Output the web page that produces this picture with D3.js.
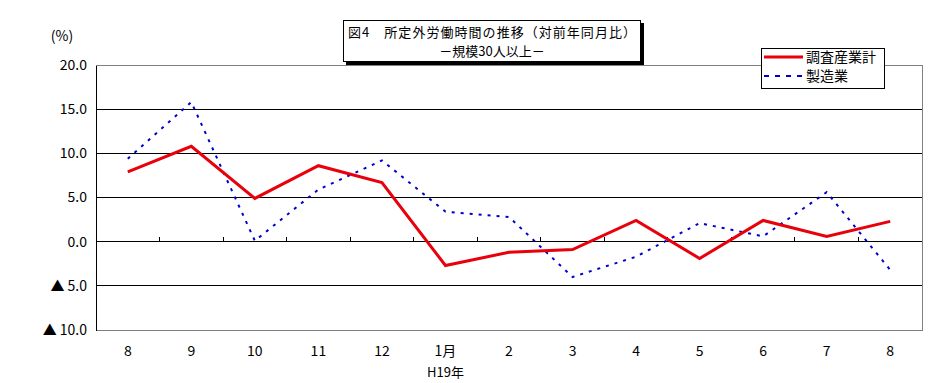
<!DOCTYPE html>
<html><head><meta charset="utf-8">
<script src="https://cdn.jsdelivr.net/npm/d3@7"></script>
<style>body{margin:0;background:#fff}svg{display:block}text{font-family:"Noto Sans CJK JP","DejaVu Sans",sans-serif;fill:#000}</style>
</head><body><svg id="c" width="948" height="383"></svg>
<script>
const categories = ["8","9","10","11","12","1月","2","3","4","5","6","7","8"];
const totalIndustry = [7.9,10.8,4.9,8.6,6.7,-2.7,-1.2,-0.9,2.4,-1.9,2.4,0.6,2.3];
const manufacturing = [9.4,15.8,0.1,5.9,9.2,3.4,2.8,-4.0,-1.7,2.1,0.6,5.6,-3.2];
const yTicks = [20,15,10,5,0,-5,-10];
const seriesNames = ["調査産業計","製造業"];
const titleLines = ["図4　所定外労働時間の推移（対前年同月比）","－規模30人以上－"];

const svg = d3.select("#c");
const L=96,R=922,T=65,B=330;
const x = d3.scaleBand().domain(d3.range(categories.length)).range([L,R]);
const y = d3.scaleLinear().domain([-10,20]).range([B,T]);

svg.append("g").selectAll("line").data(yTicks.filter(v=>v<20&&v>-10)).join("line")
  .attr("x1",L).attr("x2",R).attr("y1",d=>y(d)).attr("y2",d=>y(d))
  .attr("stroke","#000").attr("stroke-width",1).attr("shape-rendering","crispEdges");
svg.append("path").attr("d",`M${L},${T}H${R}V${B}H${L}`).attr("fill","none")
  .attr("stroke","#808080").attr("shape-rendering","crispEdges");
const yAxis = d3.axisLeft(y).tickValues(yTicks).tickSize(0).tickPadding(9)
  .tickFormat(d=> d<0 ? "▲ "+Math.abs(d).toFixed(1) : d.toFixed(1));
const ga = svg.append("g").attr("transform",`translate(${L},0)`).call(yAxis);
ga.select(".domain").attr("stroke","#000").attr("shape-rendering","crispEdges");
ga.selectAll("text").attr("font-size",14);
svg.append("g").selectAll("line").data(d3.range(1,categories.length)).join("line")
  .attr("x1",d=>x(d)).attr("x2",d=>x(d)).attr("y1",y(0)).attr("y2",y(0)-5)
  .attr("stroke","#000").attr("shape-rendering","crispEdges");
const xAxis = d3.axisBottom(x).tickSize(0).tickPadding(16).tickFormat(i=>categories[i]);
const gx = svg.append("g").attr("transform",`translate(0,${B})`).call(xAxis);
gx.select(".domain").remove();
gx.selectAll("text").attr("font-size",14);
svg.append("text").attr("x",x(5)+x.bandwidth()/2).attr("y",377).attr("text-anchor","middle")
  .attr("font-size",13).text("H19年");
svg.append("text").attr("x",62).attr("y",41).attr("text-anchor","middle").attr("font-size",14).text("(%)");

const line = d3.line().x((d,i)=>x(i)+x.bandwidth()/2).y(d=>y(d));
svg.append("path").datum(manufacturing).attr("d",line).attr("fill","none")
  .attr("stroke","#0000cc").attr("stroke-width",2).attr("stroke-dasharray","3,6");
svg.append("path").datum(totalIndustry).attr("d",line).attr("fill","none")
  .attr("stroke","#e8000b").attr("stroke-width",3).attr("stroke-linejoin","miter");

svg.append("rect").attr("x",346).attr("y",23).attr("width",298).attr("height",42).attr("fill","#000");
svg.append("rect").attr("x",343.5).attr("y",20.5).attr("width",297).attr("height",41).attr("fill","#fff").attr("stroke","#000");
svg.append("text").attr("x",492).attr("y",37).attr("text-anchor","middle").attr("font-size",13).attr("textLength",288).text(titleLines[0]);
svg.append("text").attr("x",492).attr("y",56).attr("text-anchor","middle").attr("font-size",13).text(titleLines[1]);

const lg = svg.append("g");
lg.append("rect").attr("x",761.5).attr("y",48.5).attr("width",123).attr("height",40).attr("fill","#fff").attr("stroke","#000");
lg.append("line").attr("x1",764).attr("x2",803).attr("y1",57).attr("y2",57).attr("stroke","#e8000b").attr("stroke-width",3);
lg.append("line").attr("x1",764).attr("x2",803).attr("y1",76).attr("y2",76).attr("stroke","#0000cc").attr("stroke-width",2).attr("stroke-dasharray","5,6");
lg.append("text").attr("x",806).attr("y",62).attr("font-size",14).text(seriesNames[0]);
lg.append("text").attr("x",806).attr("y",81).attr("font-size",14).text(seriesNames[1]);
</script></body></html>
